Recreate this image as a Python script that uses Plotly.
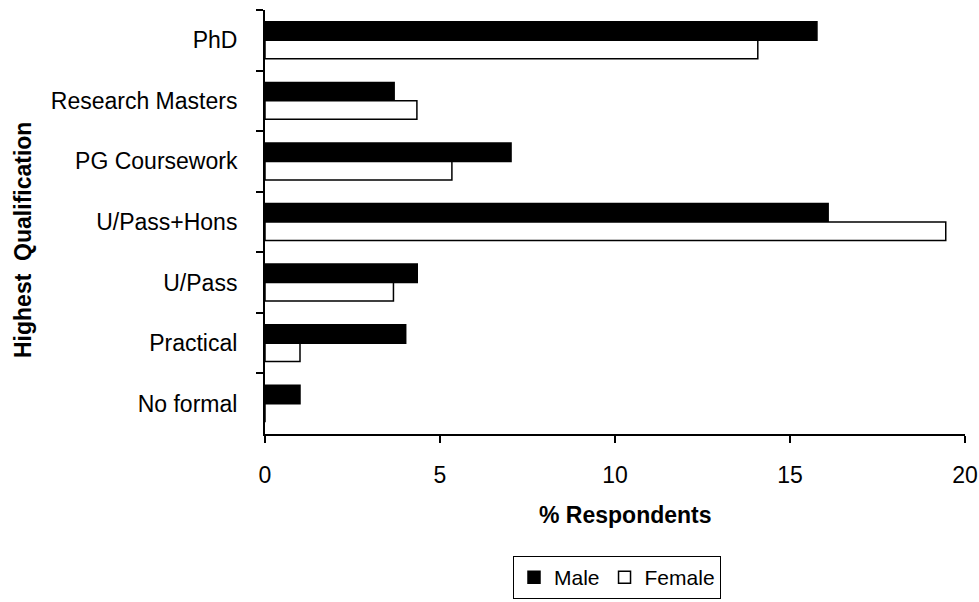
import plotly.graph_objects as go

categories = ["PhD", "Research Masters", "PG Coursework", "U/Pass+Hons", "U/Pass", "Practical", "No formal"]
male = [15.77, 3.69, 7.03, 16.09, 4.35, 4.02, 1.0]
female = [14.08, 4.34, 5.34, 19.45, 3.67, 1.0, 0.0]
x_ticks = [0, 5, 10, 15, 20]

FONT = "Liberation Sans, Arial, sans-serif"

W, H = 979, 602
PL, PT, PR, PB = 265, 10, 965, 434   # plot area in page px
PW, PH = PR - PL, PB - PT


def px(xp):
    return (xp - PL) / PW


def py(yp):
    return (PB - yp) / PH


fig = go.Figure()
fig.add_trace(go.Bar(y=categories, x=male, orientation="h", name="Male",
                     marker=dict(color="black", line=dict(color="black", width=1.5))))
fig.add_trace(go.Bar(y=categories, x=female, orientation="h", name="Female",
                     marker=dict(color="white", line=dict(color="black", width=1.5))))

fig.update_layout(
    width=W, height=H,
    margin=dict(l=PL, r=W - PR, t=PT, b=H - PB),
    plot_bgcolor="white", paper_bgcolor="white",
    barmode="group", bargap=0.39, bargroupgap=0,
    font=dict(family=FONT, size=23, color="black"),
    showlegend=True,
    legend=dict(orientation="h", xref="container", yref="container",
                x=617 / W, xanchor="center", y=(H - 556) / H, yanchor="top",
                bordercolor="black", borderwidth=1, font=dict(size=21),
                itemwidth=30, traceorder="normal"),
    annotations=[
        dict(text="<b>% Respondents</b>", xref="paper", yref="paper",
             x=px(625), y=py(515), xanchor="center", yanchor="middle",
             showarrow=False, font=dict(size=23)),
        dict(text="<b>Highest  Qualification</b>", xref="paper", yref="paper",
             x=px(23), y=py(240), xanchor="center", yanchor="middle",
             textangle=-90, showarrow=False, font=dict(size=23)),
    ],
)
fig.update_xaxes(range=[0, 20], tickvals=x_ticks, showgrid=False, zeroline=False,
                 showline=True, linecolor="black", linewidth=2,
                 ticks="outside", ticklen=7, tickwidth=2, tickcolor="black",
                 ticklabelstandoff=12, automargin=False)
fig.update_yaxes(autorange="reversed", showgrid=False, zeroline=False,
                 showline=True, linecolor="black", linewidth=2,
                 ticks="outside", ticklen=7, tickwidth=2, tickcolor="black",
                 tickson="boundaries", ticklabelstandoff=21, automargin=False)

fig.write_html("out.html", config={"displayModeBar": False},
               post_script="document.body.style.margin='0';document.body.style.overflow='hidden';")
